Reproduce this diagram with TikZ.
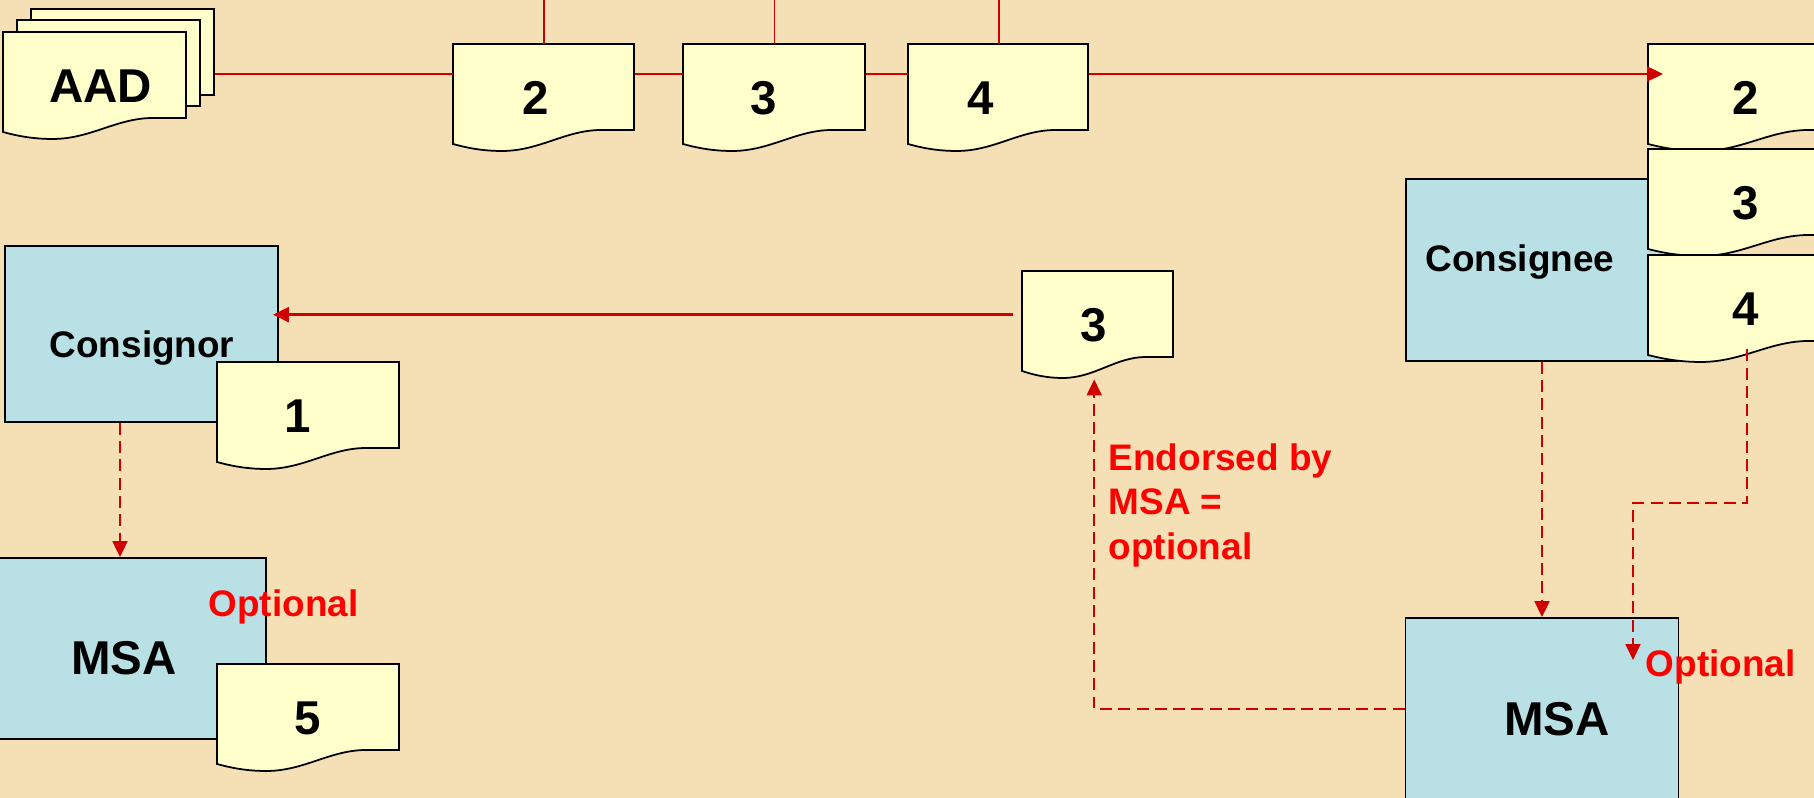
\documentclass[tikz,border=0pt]{standalone}
\usepackage{fontspec}
\setmainfont{Liberation Sans}
\usetikzlibrary{arrows.meta}

\definecolor{bgwheat}{RGB}{245,223,180}
\definecolor{paper}{RGB}{255,255,204}
\definecolor{boxblue}{RGB}{185,224,228}
\definecolor{linered}{RGB}{208,0,0}
\definecolor{textred}{RGB}{255,0,0}

\tikzset{
  docline/.style={draw=black, fill=paper, line width=0.5pt},
  docarea/.style={minimum height=0.86cm, inner sep=0pt},
  numtext/.style={font=\bfseries\fontsize{13.5}{16}\selectfont, inner sep=0pt},
  partybox/.style={draw=black, fill=boxblue, line width=0.5pt, inner sep=0pt},
  partytext/.style={font=\bfseries\fontsize{10.5}{12.6}\selectfont, inner sep=0pt},
  redtext/.style={text=textred, font=\bfseries\fontsize{10.5}{12.6}\selectfont, inner sep=0pt},
  flow/.style={draw=linered, line width=0.7pt},
  thinflow/.style={draw=linered, line width=0.45pt},
  optflow/.style={draw=linered, line width=0.65pt, dash pattern=on 3.4pt off 1.8pt},
  redtip/.style={-{Triangle[length=4.5pt,width=4.2pt]}}
}

% документ: [сдвиг текста]{имя}{x}{y}{ширина}{текст}
\newcommand{\docu}[6][0]{%
  \filldraw[docline] (#3,#4) -- ++(#5,0) -- ++(0,86) -- ({#3+0.82*#5},{#4+86})
    .. controls ({#3+0.62*#5},{#4+86}) and ({#3+0.48*#5},{#4+107}) .. ({#3+0.27*#5},{#4+107})
    .. controls ({#3+0.15*#5},{#4+107}) and ({#3+0.06*#5},{#4+103}) .. (#3,{#4+100}) -- cycle;
  \node[docarea, minimum width=#5*0.01cm, anchor=north west] (#2) at (#3,#4) {};
  \node[numtext] (#2-t) at ({#3+0.5*#5+(#1)},{#4+54}) {#6};
}

\begin{document}
\begin{tikzpicture}[x=0.01cm, y=-0.01cm]
% фон
\useasboundingbox (0,0) rectangle (1814,798);
\clip (0,0) rectangle (1814,798);
\fill[bgwheat] (0,0) rectangle (1814,798);

% AAD
\docu{aad3}{31}{9}{183}{}
\docu{aad2}{17}{20}{183}{}
\docu[6]{aad1}{3}{32}{183}{AAD}

% экземпляры сверху
\docu[-8]{d2}{453}{44}{181}{2}
\docu[-10]{d3}{683}{44}{182}{3}
\docu[-17]{d4}{908}{44}{180}{4}

% получатель
\node[partybox, minimum width=2.72cm, minimum height=1.82cm] (cnee) at (1542,270) {};
\node[partytext] (cnee-t) at (1520,262) {Consignee};
\docu{r2}{1648}{44}{196}{2}
\docu{r3}{1648}{149}{196}{3}
\docu{r4}{1648}{255}{196}{4}

% отправитель
\node[partybox, minimum width=2.73cm, minimum height=1.76cm] (cnor) at (141.5,334) {};
\node[partytext] (cnor-t) at (142,348) {Consignor};
\docu[-10]{c1}{217}{362}{182}{1}

% MSA слева
\node[partybox, minimum width=2.74cm, minimum height=1.81cm] (msa1) at (129,648.5) {};
\node[numtext] (msa1-t) at (124,658) {MSA};
\docu{c5}{217}{664}{182}{5}
\node[redtext, anchor=west] (opt1) at (208,607) {Optional};

% экземпляр 3 посередине
\docu[-4]{m3}{1022}{271}{151}{3}

% MSA справа
\node[partybox, minimum width=2.73cm, minimum height=1.82cm] (msa2) at (1542,709) {};
\node[numtext] (msa2-t) at (1557,719) {MSA};

% линии
\coordinate (row) at (0,74);
\coordinate (ceiling) at (0,0);
\draw[flow] (aad3.east |- row) -- (d2.west |- row);
\draw[flow] (d2.east |- row) -- (d3.west |- row);
\draw[flow] (d3.east |- row) -- (d4.west |- row);
\draw[flow, redtip, shorten >=-0.15cm] (d4.east |- row) -- (r2.west |- row);
\draw[thinflow] (d2.north) -- (d2.north |- ceiling);
\draw[thinflow] (d3.north) -- (d3.north |- ceiling);
\draw[thinflow] (d4.north) -- (d4.north |- ceiling);

\draw[flow, redtip, shorten <=0.09cm, shorten >=-0.06cm] (m3.west) -- (m3.west -| cnor.east);

% пунктир
\draw[optflow, redtip] ([xshift=-0.04cm]cnor.south -| msa1-t) -- ([xshift=-0.04cm]msa1.north -| msa1-t);
\draw[optflow, redtip] (cnee.south) -- (msa2.north);
\coordinate (bend) at (1747,503);
\coordinate (opt2) at (1633,660);
\draw[optflow, redtip, shorten <=0.07cm] (r4.south) -- (r4.south |- bend) -| (opt2);
\draw[optflow, redtip] (msa2.west) -| ([xshift=-0.04cm,yshift=-0.21cm]m3.south);

% подписи
\node[redtext, anchor=north west, align=left] (endorse) at (1108,443) {Endorsed by\\MSA =\\optional};
\node[redtext, anchor=west] (opt2-t) at (1645,667) {Optional};
\end{tikzpicture}
\end{document}
